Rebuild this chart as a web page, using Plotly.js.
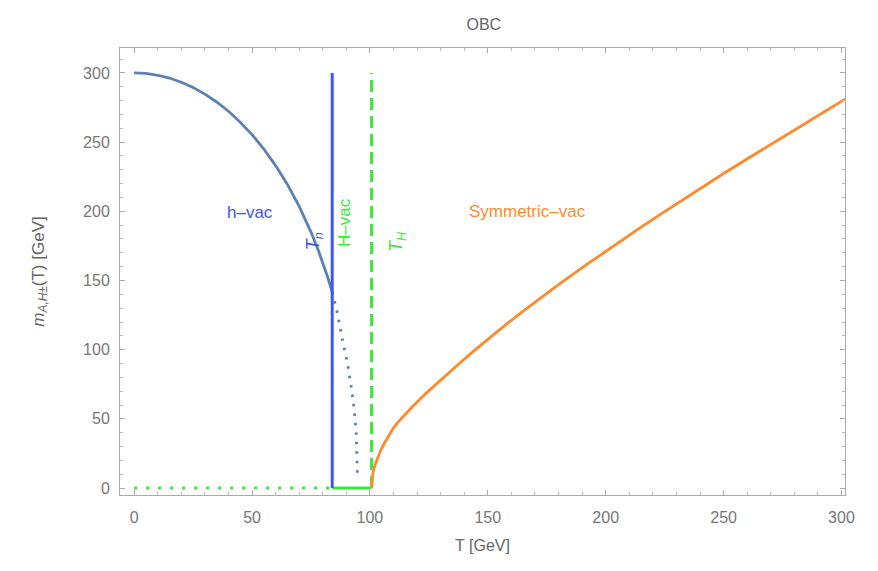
<!DOCTYPE html>
<html><head><meta charset="utf-8">
<script src="https://cdn.plot.ly/plotly-3.0.1.min.js"></script>
<style>html,body{margin:0;padding:0;background:#fff}</style>
</head><body>
<div id="chart" style="width:878px;height:571px"></div>
<script>
// h-vacuum branch (solid)
const hvacT = [0, 5, 10, 15, 20, 25, 30, 35, 40, 45, 50, 55, 60, 65, 70, 75, 78, 80, 82, 84];
const hvacM = [300, 299.6, 298.3, 296.3, 293.3, 289.5, 284.7, 279, 272.3, 264.4, 255.4, 245, 233, 219.4, 203.6, 185, 172.3, 163, 152.9, 141.7];
// h-vacuum continuation (dotted)
const hdotT = [84, 86, 88.5, 90.5, 92.1, 93.3, 94.2, 94.6, 94.7];
const hdotM = [141.7, 128, 106, 90, 73, 57, 39.5, 20, 9.4];
// symmetric vacuum branch
const symT = [100.7, 100.9, 101.3, 102, 103, 104.5, 106, 108, 110, 112, 114, 118, 124, 130, 138, 145, 151, 158, 165, 172, 180, 192, 204, 215, 225, 237, 250, 262, 275, 288, 301.5];
const symM = [0, 6, 11, 16, 21, 27, 32, 38, 43.5, 47.8, 51.7, 58.8, 68.8, 78.2, 90.2, 100.4, 109, 118.6, 127.9, 136.9, 147.1, 161.6, 175.9, 188.5, 199.8, 213.2, 227.3, 240, 253.7, 267.1, 281];
// transition temperatures and H-vacuum at zero
const Tn = 84;
const TH = 100.7;
const zeroDotT = [0, Tn];
const zeroSolidT = [Tn, TH];
const zeroM = [0, 0];
const vLineM = [0, 300];

const blueCurve = '#5d80b4';
const blueV = '#3f55f5';
const green = '#3ae83a';
const orange = '#ff8a2c';

const traces = [
  {x: zeroDotT, y: zeroM, mode: 'lines', line: {color: green, width: 3, dash: '3px,9px'}},
  {x: zeroSolidT, y: zeroM, mode: 'lines', line: {color: green, width: 3}},
  {x: hvacT, y: hvacM, mode: 'lines', line: {color: blueCurve, width: 2.8}},
  {x: hdotT, y: hdotM, mode: 'lines', line: {color: blueCurve, width: 2.8, dash: '2.5px,7px'}},
  {x: [Tn, Tn], y: vLineM, mode: 'lines', line: {color: blueV, width: 3}},
  {x: [TH, TH], y: vLineM, mode: 'lines', line: {color: green, width: 3, dash: '12px,6px'}},
  {x: symT, y: symM, mode: 'lines', line: {color: orange, width: 2.8}}
];

const fam = 'Liberation Sans, Arial, sans-serif';
const tickFont = {family: fam, size: 16, color: '#777'};
const axisCommon = {
  showgrid: false, zeroline: false, showline: true, linecolor: '#aaa', linewidth: 1,
  mirror: 'ticks', ticks: 'inside', ticklen: 5, tickcolor: '#aaa', tickfont: tickFont,
  minor: {ticks: 'inside', ticklen: 3, tickcolor: '#bbb', dtick: 10}
};

const layout = {
  width: 878, height: 571,
  margin: {l: 120, r: 33, t: 48, b: 76},
  paper_bgcolor: '#fff', plot_bgcolor: '#fff',
  showlegend: false,
  title: {text: 'OBC', x: 0.551, xanchor: 'center', y: 0.958, yanchor: 'middle',
          font: {family: fam, size: 16, color: '#666'}},
  xaxis: Object.assign({}, axisCommon, {
    range: [-6, 301.5], tickvals: [0, 50, 100, 150, 200, 250, 300], ticktext: ['0','50','100','150','200','250','300'],
    ticklabelstandoff: 8,
    title: {text: 'T [GeV]', standoff: 14, font: {family: fam, size: 16, color: '#666'}}
  }),
  yaxis: Object.assign({}, axisCommon, {
    range: [-5, 318], tickvals: [0, 50, 100, 150, 200, 250, 300], ticktext: ['0','50','100','150','200','250','300'],
    ticklabelstandoff: 6,
    title: {text: '<i>m</i><sub><i>A,H</i>±</sub>(T) [GeV]', standoff: 34, font: {family: fam, size: 17, color: '#666'}}
  }),
  annotations: [
    {x: 49.3, y: 199, text: 'h–vac', showarrow: false, font: {family: fam, size: 17, color: blueV}},
    {x: 76.5, y: 178, text: '<i>T</i><sub><i>n</i></sub>', textangle: -90, showarrow: false, font: {family: fam, size: 18, color: blueV}},
    {x: 89.3, y: 192, text: 'H–vac', textangle: -90, showarrow: false, font: {family: fam, size: 17, color: green}},
    {x: 112, y: 178, text: '<i>T</i><sub><i>H</i></sub>', textangle: -90, showarrow: false, font: {family: fam, size: 18, color: green}},
    {x: 167, y: 199.6, text: 'Symmetric–vac', showarrow: false, font: {family: fam, size: 17, color: orange}}
  ]
};

Plotly.newPlot('chart', traces, layout, {displayModeBar: false, staticPlot: true});
</script>
</body></html>
